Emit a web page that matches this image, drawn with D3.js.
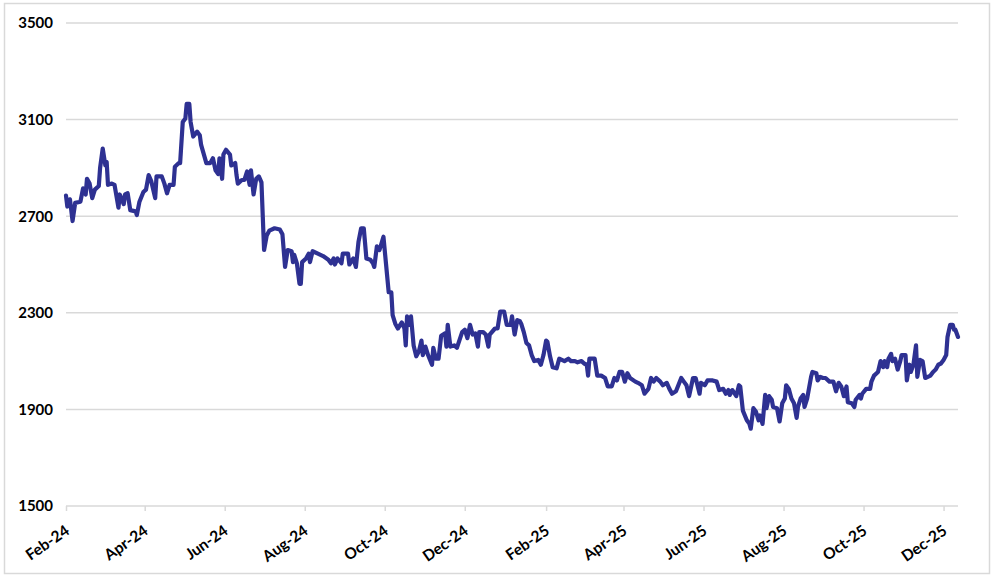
<!DOCTYPE html>
<html>
<head>
<meta charset="utf-8">
<script src="https://cdn.jsdelivr.net/npm/d3@7"></script>
<style>
  html, body { margin: 0; padding: 0; background: #ffffff; }
  svg { display: block; }
  text { font-family: Lato, "Open Sans", "Liberation Sans", sans-serif; font-weight: 700; fill: #000; }
</style>
</head>
<body>
<script>
const dates = [
"2024-02-01","2024-02-02","2024-02-04","2024-02-06","2024-02-08","2024-02-12","2024-02-14","2024-02-16","2024-02-17","2024-02-19",
"2024-02-21","2024-02-23","2024-02-26","2024-02-27","2024-02-29","2024-03-02","2024-03-03","2024-03-04","2024-03-07","2024-03-09",
"2024-03-12","2024-03-13","2024-03-16","2024-03-17","2024-03-19","2024-03-21","2024-03-25","2024-03-26","2024-03-28","2024-03-31",
"2024-04-02","2024-04-04","2024-04-06","2024-04-09","2024-04-10","2024-04-14","2024-04-16","2024-04-18","2024-04-20","2024-04-23",
"2024-04-24","2024-04-27","2024-04-28","2024-04-30","2024-05-02","2024-05-03","2024-05-05","2024-05-06","2024-05-08","2024-05-11",
"2024-05-13","2024-05-14","2024-05-18","2024-05-21","2024-05-23","2024-05-25","2024-05-27","2024-05-28","2024-05-30","2024-05-31",
"2024-06-02","2024-06-05","2024-06-06","2024-06-09","2024-06-10","2024-06-11","2024-06-14","2024-06-16","2024-06-18","2024-06-20",
"2024-06-21","2024-06-23","2024-06-25","2024-06-27","2024-06-29","2024-07-01","2024-07-03","2024-07-05","2024-07-09","2024-07-13",
"2024-07-15","2024-07-17","2024-07-19","2024-07-22","2024-07-23","2024-07-24","2024-07-26","2024-07-28","2024-07-29","2024-07-30",
"2024-08-02","2024-08-04","2024-08-05","2024-08-07","2024-08-11","2024-08-15","2024-08-19","2024-08-21","2024-08-23","2024-08-24",
"2024-08-26","2024-08-29","2024-08-30","2024-09-03","2024-09-04","2024-09-07","2024-09-09","2024-09-11","2024-09-13","2024-09-15",
"2024-09-17","2024-09-20","2024-09-22","2024-09-23","2024-09-25","2024-09-27","2024-09-30","2024-10-02","2024-10-04","2024-10-06",
"2024-10-07","2024-10-09","2024-10-11","2024-10-14","2024-10-16","2024-10-17","2024-10-18","2024-10-20","2024-10-21","2024-10-23",
"2024-10-25","2024-10-27","2024-10-29","2024-10-30","2024-11-01","2024-11-03","2024-11-06","2024-11-07","2024-11-09","2024-11-11",
"2024-11-13","2024-11-16","2024-11-17","2024-11-18","2024-11-20","2024-11-23","2024-11-25","2024-11-29","2024-12-01","2024-12-03",
"2024-12-05","2024-12-07","2024-12-09","2024-12-11","2024-12-12","2024-12-15","2024-12-17","2024-12-19","2024-12-20","2024-12-24",
"2024-12-26","2024-12-28","2024-12-31","2025-01-02","2025-01-05","2025-01-06","2025-01-08","2025-01-10","2025-01-12","2025-01-13",
"2025-01-15","2025-01-17","2025-01-19","2025-01-21","2025-01-23","2025-01-26","2025-01-28","2025-01-30","2025-02-01","2025-02-02",
"2025-02-04","2025-02-06","2025-02-09","2025-02-11","2025-02-15","2025-02-18","2025-02-20","2025-02-23","2025-02-25","2025-02-28",
"2025-03-02","2025-03-04","2025-03-05","2025-03-06","2025-03-10","2025-03-12","2025-03-15","2025-03-18","2025-03-20","2025-03-23",
"2025-03-25","2025-03-27","2025-03-29","2025-03-31","2025-04-02","2025-04-04","2025-04-06","2025-04-10","2025-04-12","2025-04-15",
"2025-04-17","2025-04-20","2025-04-22","2025-04-24","2025-04-26","2025-04-29","2025-05-01","2025-05-04","2025-05-06","2025-05-08",
"2025-05-11","2025-05-15","2025-05-17","2025-05-19","2025-05-21","2025-05-24","2025-05-26","2025-05-29","2025-05-30","2025-06-02",
"2025-06-04","2025-06-08","2025-06-11","2025-06-13","2025-06-16","2025-06-18","2025-06-20","2025-06-21","2025-06-23","2025-06-26",
"2025-06-28","2025-06-29","2025-07-01","2025-07-04","2025-07-06","2025-07-07","2025-07-09","2025-07-11","2025-07-13","2025-07-14",
"2025-07-16","2025-07-18","2025-07-19","2025-07-21","2025-07-23","2025-07-24","2025-07-27","2025-07-29","2025-07-31","2025-08-02",
"2025-08-03","2025-08-05","2025-08-07","2025-08-09","2025-08-11","2025-08-12","2025-08-14","2025-08-16","2025-08-17","2025-08-19",
"2025-08-22","2025-08-23","2025-08-26","2025-08-27","2025-08-29","2025-08-31","2025-09-02","2025-09-05","2025-09-08","2025-09-10",
"2025-09-12","2025-09-14","2025-09-16","2025-09-18","2025-09-19","2025-09-22","2025-09-24","2025-09-25","2025-09-28","2025-09-29",
"2025-09-30","2025-10-03","2025-10-06","2025-10-07","2025-10-09","2025-10-12","2025-10-14","2025-10-16","2025-10-17","2025-10-19",
"2025-10-20","2025-10-22","2025-10-23","2025-10-25","2025-10-27","2025-10-29","2025-10-30","2025-11-02","2025-11-03","2025-11-05",
"2025-11-06","2025-11-08","2025-11-10","2025-11-11","2025-11-13","2025-11-15","2025-11-17","2025-11-19","2025-11-21","2025-11-23",
"2025-11-25","2025-11-27","2025-11-29","2025-12-01","2025-12-03","2025-12-04","2025-12-06","2025-12-08","2025-12-09","2025-12-10",
"2025-12-12"
];

const values = [
2785,2740,2770,2680,2755,2760,2815,2790,2855,2835,
2775,2810,2825,2900,2980,2910,2925,2830,2835,2830,
2735,2790,2750,2790,2795,2725,2720,2705,2760,2800,
2810,2870,2845,2775,2865,2865,2835,2795,2830,2830,
2905,2920,2920,3090,3105,3165,3165,3090,3030,3050,
3035,2995,2920,2920,2940,2890,2875,2940,2855,2955,
2975,2955,2910,2920,2870,2835,2850,2850,2885,2830,
2890,2790,2855,2865,2840,2560,2620,2640,2650,2645,
2625,2490,2560,2555,2510,2540,2505,2420,2420,2510,
2525,2545,2510,2555,2545,2535,2520,2505,2525,2500,
2525,2505,2545,2545,2500,2525,2490,2595,2650,2650,
2525,2520,2505,2490,2575,2560,2615,2500,2385,2385,
2290,2255,2235,2260,2235,2165,2285,2250,2285,2165,
2120,2140,2185,2125,2160,2125,2085,2155,2110,2110,
2205,2215,2160,2250,2160,2165,2155,2220,2230,2195,
2250,2210,2215,2160,2220,2220,2210,2160,2210,2235,
2235,2305,2305,2250,2250,2285,2210,2270,2265,2255,
2220,2175,2165,2125,2100,2105,2085,2125,2185,2180,
2120,2075,2070,2110,2100,2110,2100,2100,2095,2100,
2090,2085,2040,2110,2110,2040,2040,2030,1995,1995,
2030,2020,2055,2055,2015,2050,2030,2015,2010,2000,
1965,1985,2030,2015,2030,2015,2000,2010,1985,1965,
1975,2030,2015,2000,1955,2030,2030,1965,2010,2000,
2020,2020,2015,1980,1985,1965,1980,1960,1980,1955,
2000,1995,1895,1855,1840,1820,1905,1890,1855,1875,
1840,1960,1905,1955,1940,1910,1905,1850,1925,1945,
2000,1985,1945,1925,1865,1910,1945,1960,1910,1945,
2035,2055,2050,2020,2035,2030,2030,2015,2015,1975,
2010,1995,1955,1995,1930,1925,1910,1940,1960,1945,
1965,1985,1985,2015,2040,2055,2100,2075,2100,2075,
2110,2130,2100,2110,2065,2100,2125,2125,2020,2085,
2055,2085,2165,2035,2105,2100,2030,2035,2040,2055,
2065,2085,2090,2105,2125,2200,2250,2250,2230,2230,
2200
];

const yTicks = [1500, 1900, 2300, 2700, 3100, 3500];
const xTickDates = ["2024-02-01","2024-04-01","2024-06-01","2024-08-01","2024-10-01","2024-12-01",
                    "2025-02-01","2025-04-01","2025-06-01","2025-08-01","2025-10-01","2025-12-01"];
const xTickLabels = ["Feb-24","Apr-24","Jun-24","Aug-24","Oct-24","Dec-24",
                     "Feb-25","Apr-25","Jun-25","Aug-25","Oct-25","Dec-25"];

const W = 994, H = 579;
const parse = d3.timeParse("%Y-%m-%d");
const data = dates.map((d, i) => ({ date: parse(d), value: values[i] }));

const svg = d3.select("body").append("svg").attr("width", W).attr("height", H);

// outer frame
svg.append("rect").attr("x", 4.5).attr("y", 3.5).attr("width", 985).attr("height", 570)
  .attr("fill", "#fff").attr("stroke", "#d9d9d9").attr("stroke-width", 1.5);

const x = d3.scaleTime()
  .domain([parse("2024-02-01"), d3.max(data, d => d.date)])
  .range([66, 958]);
const y = d3.scaleLinear().domain([1500, 3500]).range([506, 23]);

// gridlines
svg.append("g").selectAll("line").data(yTicks).join("line")
  .attr("x1", x.range()[0]).attr("x2", x.range()[1])
  .attr("y1", d => y(d)).attr("y2", d => y(d))
  .attr("stroke", "#d9d9d9").attr("stroke-width", 1.5);

// y axis labels
const yAxis = d3.axisLeft(y).tickValues(yTicks).tickSize(0).tickPadding(0).tickFormat(d3.format("d"));
const gy = svg.append("g").attr("transform", "translate(53,0)").call(yAxis);
gy.select(".domain").remove();
gy.selectAll("text").style("font-size", "15px").style("font-family", "Lato, 'Open Sans', sans-serif")
  .style("font-weight", "700").attr("fill", "#000");

// x axis
const tickDates = xTickDates.map(parse);
const xAxis = d3.axisBottom(x).tickValues(tickDates).tickSize(5)
  .tickFormat((d, i) => xTickLabels[i]);
const gx = svg.append("g").attr("transform", `translate(0,${y(1500)})`).call(xAxis);
gx.select(".domain").remove();
gx.selectAll(".tick line").attr("stroke", "#d9d9d9").attr("stroke-width", 1.5);
gx.selectAll(".tick text")
  .style("font-size", "15.5px").style("font-family", "Lato, 'Open Sans', sans-serif")
  .style("font-weight", "700").attr("fill", "#000")
  .attr("text-anchor", "end")
  .attr("y", 0).attr("dy", 0)
  .attr("transform", "translate(4,27) rotate(-35)");

// line
const line = d3.line().x(d => x(d.date)).y(d => y(d.value));
svg.append("path").datum(data)
  .attr("fill", "none").attr("stroke", "#2E3192").attr("stroke-width", 4.2)
  .attr("stroke-linejoin", "round").attr("stroke-linecap", "round")
  .attr("d", line);
</script>
</body>
</html>
